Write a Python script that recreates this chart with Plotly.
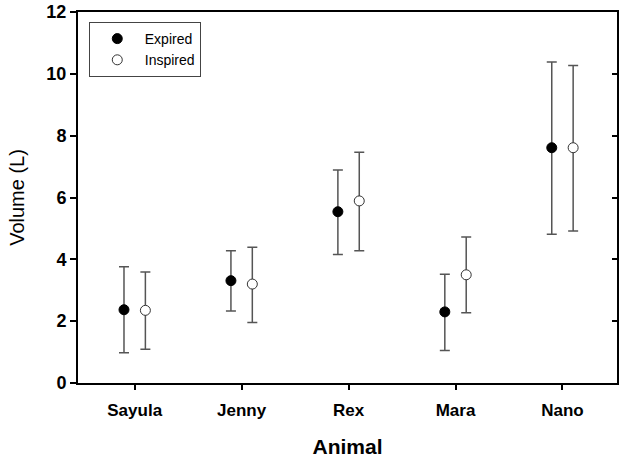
import plotly.graph_objects as go

animals = ["Sayula", "Jenny", "Rex", "Mara", "Nano"]
expired = [2.37, 3.31, 5.54, 2.30, 7.61]
expired_err_plus = [1.39, 0.97, 1.35, 1.22, 2.77]
expired_err_minus = [1.39, 0.98, 1.38, 1.25, 2.80]
inspired = [2.35, 3.20, 5.89, 3.50, 7.61]
inspired_err_plus = [1.24, 1.19, 1.57, 1.22, 2.66]
inspired_err_minus = [1.26, 1.24, 1.61, 1.23, 2.69]
y_ticks = [0, 2, 4, 6, 8, 10, 12]

pos = list(range(1, len(animals) + 1))
offset = 0.1
ecolor = "#555555"

fig = go.Figure()
fig.add_trace(go.Scatter(
    x=[p - offset for p in pos], y=expired, mode="markers", name="Expired",
    marker=dict(symbol="circle", size=10, color="black", line=dict(color="black", width=1)),
    error_y=dict(type="data", symmetric=False, array=expired_err_plus,
                 arrayminus=expired_err_minus, color=ecolor, thickness=1.5, width=5),
))
fig.add_trace(go.Scatter(
    x=[p + offset for p in pos], y=inspired, mode="markers", name="Inspired",
    marker=dict(symbol="circle", size=10, color="white", line=dict(color="#333333", width=1)),
    error_y=dict(type="data", symmetric=False, array=inspired_err_plus,
                 arrayminus=inspired_err_minus, color=ecolor, thickness=1.5, width=5),
))
# invisible trace for right-side inward ticks
fig.add_trace(go.Scatter(x=[1], y=[0], yaxis="y2", mode="markers",
                         marker=dict(opacity=0), showlegend=False, hoverinfo="skip"))

font_family = "Liberation Sans, Arial, sans-serif"
fig.update_layout(
    width=630, height=465,
    margin=dict(l=78, r=13, t=12, b=82, autoexpand=False),
    paper_bgcolor="white", plot_bgcolor="white",
    font=dict(family=font_family, color="black"),
    showlegend=True,
    legend=dict(x=0.02, y=0.973, xanchor="left", yanchor="top",
                bordercolor="#444444", borderwidth=1, bgcolor="white",
                font=dict(size=14, family=font_family), itemwidth=45,
                entrywidth=83),
    xaxis=dict(range=[0.47, 5.51], tickmode="array", tickvals=pos, ticktext=animals,
               automargin=False,
               showgrid=False, zeroline=False, showline=True, linecolor="black", linewidth=2,
               mirror=True, ticks="outside", ticklen=5, tickwidth=2, tickcolor="black",
               ticklabelstandoff=6,
               tickfont=dict(size=17, family=font_family, weight="bold"),
               title=dict(text="<b>Animal</b>", font=dict(size=21, family=font_family), standoff=20)),
    yaxis=dict(range=[0, 12], tickmode="array", tickvals=y_ticks, automargin=False,
               showgrid=False, zeroline=False, showline=True, linecolor="black", linewidth=2,
               mirror=True, ticks="outside", ticklen=6, tickwidth=2, tickcolor="black",
               tickfont=dict(size=18, family=font_family, weight="bold"),
               title=dict(text="Volume (L)", font=dict(size=20, family=font_family), standoff=16)),
    yaxis2=dict(range=[0, 12], overlaying="y", side="right", tickmode="array", tickvals=y_ticks,
                automargin=False,
                showgrid=False, zeroline=False, showline=False, showticklabels=False,
                ticks="inside", ticklen=5, tickwidth=2, tickcolor="black"),
)

fig.write_html("out.html", config={"displayModeBar": False},
               post_script="document.body.style.margin='0';")
